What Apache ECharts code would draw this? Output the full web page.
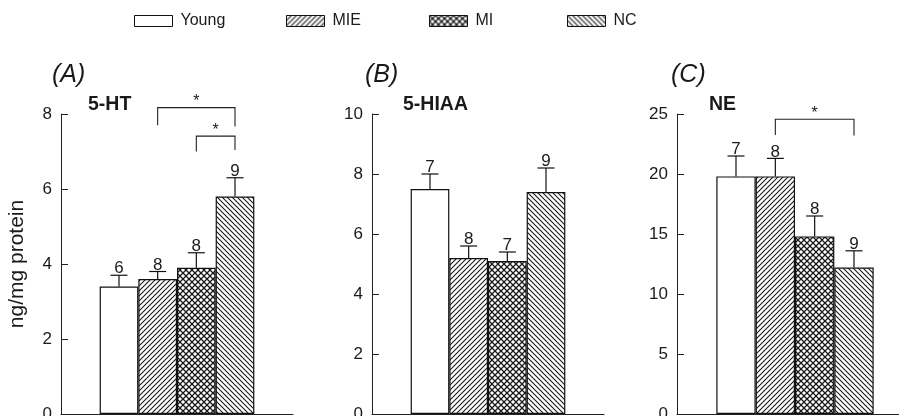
<!DOCTYPE html>
<html>
<head>
<meta charset="utf-8">
<script src="https://cdn.jsdelivr.net/npm/echarts@6/dist/echarts.min.js"></script>
<style>
html,body{margin:0;padding:0;background:#fff;}
#chart{width:899px;height:416px;}
</style>
</head>
<body>
<div id="chart"></div>
<script>
// ---- data ----
const groups = ['Young', 'MIE', 'MI', 'NC'];
const slots = ['', 'Young', 'MIE', 'MI', 'NC', ''];
const panelLabels = ['(A)', '(B)', '(C)'];
const panelTitles = ['5-HT', '5-HIAA', 'NE'];
const yMax = [8, 10, 25];
const yInterval = [2, 2, 5];
const meansA = [3.4, 3.6, 3.9, 5.8];
const semA = [0.3, 0.2, 0.4, 0.5];
const nA = [6, 8, 8, 9];
const meansB = [7.5, 5.2, 5.1, 7.4];
const semB = [0.5, 0.4, 0.3, 0.8];
const nB = [7, 8, 7, 9];
const meansC = [19.8, 19.8, 14.8, 12.2];
const semC = [1.7, 1.5, 1.7, 1.4];
const nC = [7, 8, 8, 9];
// brackets: [fromSlot, toSlot, top, leftLegEnd, rightLegEnd]
const bracketsA = [[2, 4, 8.17, 7.7, 7.67], [3, 4, 7.41, 7.0, 7.04]];
const bracketsB = [];
const bracketsC = [[2, 4, 24.56, 23.25, 23.2]];

const means = [meansA, meansB, meansC];
const sems = [semA, semB, semC];
const ns = [nA, nB, nC];
const brackets = [bracketsA, bracketsB, bracketsC];

// ---- patterns ----
function makePattern(kind) {
  const c = document.createElement('canvas');
  const s = kind === 'cross' ? 6 : 5;
  c.width = s; c.height = s;
  const g = c.getContext('2d');
  g.fillStyle = '#fff';
  g.fillRect(0, 0, s, s);
  g.strokeStyle = '#1a1a1a';
  g.lineWidth = kind === 'cross' ? 1.3 : 1.1;
  function fwd() { // "/"
    g.beginPath();
    g.moveTo(-1, s + 1); g.lineTo(s + 1, -1);
    g.moveTo(-1 - s, s + 1); g.lineTo(1, -1);
    g.moveTo(s - 1, s + 1); g.lineTo(2 * s + 1, -1);
    g.stroke();
  }
  function back() { // "\"
    g.beginPath();
    g.moveTo(-1, -1); g.lineTo(s + 1, s + 1);
    g.moveTo(-1 - s, -1); g.lineTo(1, s + 1);
    g.moveTo(s - 1, -1); g.lineTo(2 * s + 1, s + 1);
    g.stroke();
  }
  if (kind === 'fwd') fwd();
  if (kind === 'back') back();
  if (kind === 'cross') { fwd(); back(); }
  return { image: c, repeat: 'repeat' };
}
const fills = ['#ffffff', makePattern('fwd'), makePattern('cross'), makePattern('back')];

// ---- layout ----
const grids = [
  { left: 61, top: 114, width: 232, height: 300 },
  { left: 372, top: 114, width: 232, height: 300 },
  { left: 677, top: 114, width: 236, height: 300 }
].map(g => Object.assign(g, { containLabel: false, outerBoundsMode: 'none' }));
const labelPos = [[52, 75], [365, 75], [671, 75]];
const titlePos = [[88, 105], [403, 105], [709, 105]];
const legendLeft = [134, 286, 429, 567];

const textColor = '#1a1a1a';
const font = '"Liberation Sans", Arial, Helvetica, sans-serif';

const xAxes = [], yAxes = [], series = [];
for (let p = 0; p < 3; p++) {
  xAxes.push({
    type: 'category', gridIndex: p, data: slots,
    axisLine: { show: true, lineStyle: { color: '#222', width: 1 } },
    axisTick: { show: false }, axisLabel: { show: false }
  });
  yAxes.push({
    type: 'value', gridIndex: p, min: 0, max: yMax[p], interval: yInterval[p],
    axisLine: { show: true, lineStyle: { color: '#222', width: 1 } },
    axisTick: { show: true, inside: true, length: 7, lineStyle: { color: '#222' } },
    axisLabel: { fontSize: 17, color: textColor, fontFamily: font, margin: 9 },
    splitLine: { show: false }
  });
  for (let g = 0; g < 4; g++) {
    const d = slots.map((s, i) => (i === g + 1 ? means[p][g] : '-'));
    series.push({
      type: 'bar', name: groups[g], xAxisIndex: p, yAxisIndex: p,
      data: d, barWidth: '100%', barGap: '-100%',
      itemStyle: { color: fills[g], borderColor: '#111', borderWidth: 1.2 },
      emphasis: { disabled: true }, silent: true
    });
  }
  // error bars with n labels
  const errData = groups.map((gname, g) => [g + 1, means[p][g], means[p][g] + sems[p][g], ns[p][g]]);
  series.push({
    type: 'custom', xAxisIndex: p, yAxisIndex: p, silent: true, z: 5,
    data: errData,
    renderItem: function (params, api) {
      const base = api.coord([api.value(0), api.value(1)]);
      const top = api.coord([api.value(0), api.value(2)]);
      const hw = 8.5;
      return {
        type: 'group',
        children: [
          { type: 'line', shape: { x1: base[0], y1: base[1], x2: top[0], y2: top[1] }, style: { stroke: '#111', lineWidth: 1.2 } },
          { type: 'line', shape: { x1: top[0] - hw, y1: top[1], x2: top[0] + hw, y2: top[1] }, style: { stroke: '#111', lineWidth: 1.2 } },
          { type: 'text', x: top[0], y: top[1] + 2, style: { text: String(api.value(3)), fill: textColor, font: '17px ' + font, textAlign: 'center', textVerticalAlign: 'bottom' } }
        ]
      };
    }
  });
  if (brackets[p].length) {
    series.push({
      type: 'custom', xAxisIndex: p, yAxisIndex: p, silent: true, z: 5, clip: false,
      data: brackets[p],
      renderItem: function (params, api) {
        const a = api.coord([api.value(0), api.value(3)]);
        const b = api.coord([api.value(0), api.value(2)]);
        const c = api.coord([api.value(1), api.value(2)]);
        const d = api.coord([api.value(1), api.value(4)]);
        return {
          type: 'group',
          children: [
            { type: 'polyline', shape: { points: [a, b, c, d] }, style: { stroke: '#222', lineWidth: 1.1, fill: null } },
            { type: 'text', x: (b[0] + c[0]) / 2, y: b[1] + 2, style: { text: '*', fill: textColor, font: '16px ' + font, textAlign: 'center', textVerticalAlign: 'bottom' } }
          ]
        };
      }
    });
  }
}

const graphics = [];
for (let p = 0; p < 3; p++) {
  graphics.push({ type: 'text', x: labelPos[p][0], y: labelPos[p][1], style: { text: panelLabels[p], fill: textColor, font: 'italic 25px ' + font, textAlign: 'left', textVerticalAlign: 'middle' } });
  graphics.push({ type: 'text', x: titlePos[p][0], y: titlePos[p][1], style: { text: panelTitles[p], fill: textColor, font: 'bold 19.5px ' + font, textAlign: 'left', textVerticalAlign: 'middle' } });
}
graphics.push({
  type: 'text', x: 17, y: 264, rotation: Math.PI / 2,
  style: { text: 'ng/mg protein', fill: textColor, font: '21px ' + font, textAlign: 'center', textVerticalAlign: 'middle' }
});

const legends = groups.map((gname, i) => ({
  data: [gname], left: legendLeft[i], top: 13, itemWidth: 38, itemHeight: 11,
  icon: 'rect', selectedMode: false, padding: 0,
  itemStyle: { borderColor: '#111', borderWidth: 1 },
  textStyle: { fontSize: 16, color: textColor, fontFamily: font, padding: [0, 0, 0, 3] }
}));

const chart = echarts.init(document.getElementById('chart'), null, { renderer: 'canvas' });
chart.setOption({
  animation: false,
  backgroundColor: '#fff',
  grid: grids,
  xAxis: xAxes,
  yAxis: yAxes,
  legend: legends,
  series: series,
  graphic: graphics
});
</script>
</body>
</html>
